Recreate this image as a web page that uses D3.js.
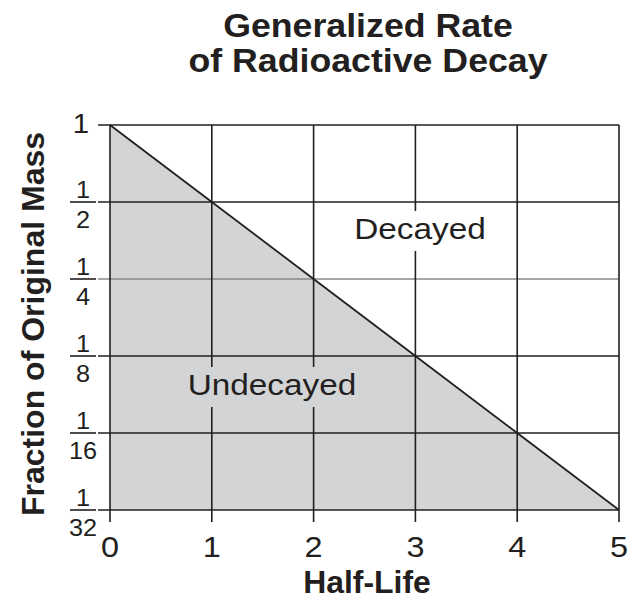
<!DOCTYPE html>
<html>
<head>
<meta charset="utf-8">
<script src="https://cdn.jsdelivr.net/npm/d3@7"></script>
<style>
  html, body { margin: 0; padding: 0; background: #fff; }
  svg { display: block; font-family: "Liberation Sans", Arial, sans-serif; }
</style>
</head>
<body>
<svg id="chart" width="644" height="601"></svg>
<script>
// Half-lives elapsed and remaining fraction of original mass
const halfLives = [0, 1, 2, 3, 4, 5];
const fractionDenoms = [1, 2, 4, 8, 16, 32];
const remaining = [1, 1/2, 1/4, 1/8, 1/16, 1/32];
const titleLines = ["Generalized Rate", "of Radioactive Decay"];

const svg = d3.select("#chart");
const plotLeft = 110, plotRight = 619, plotTop = 125, plotBottom = 510;

const x = d3.scaleLinear().domain([0, 5]).range([plotLeft, plotRight]);
const y = d3.scaleLog().base(2).domain([1/32, 1]).range([plotBottom, plotTop]);

const ink = "#231f20";
const shade = "#d3d4d6";
const data = halfLives.map((h, i) => ({ h, f: remaining[i] }));

// Text helper: places a label at (cx, cy) with a slight horizontal stretch
function label(parent, text, cx, cy, size, opts = {}) {
  return parent.append("text")
    .attr("transform", `translate(${cx},${cy}) scale(${opts.stretch || 1},1)${opts.rotate ? " rotate(" + opts.rotate + ")" : ""}`)
    .attr("text-anchor", opts.anchor || "middle")
    .attr("font-size", size)
    .attr("font-weight", opts.bold ? "bold" : "normal")
    .attr("fill", ink)
    .text(text);
}

// Undecayed region below the decay line
svg.append("path")
  .datum(data)
  .attr("fill", shade)
  .attr("d", d3.area().x(d => x(d.h)).y0(y(1/32)).y1(d => y(d.f)));

// Horizontal gridlines with short ticks left of the axis (1/4 line drawn lighter)
svg.append("g").selectAll("line")
  .data(fractionDenoms)
  .join("line")
  .attr("x1", plotLeft - 12).attr("x2", plotRight)
  .attr("y1", d => y(1 / d)).attr("y2", d => y(1 / d))
  .attr("stroke", d => d === 4 ? "#8a8a8a" : ink)
  .attr("stroke-width", 1.6);

// Vertical gridlines with ticks below the axis
svg.append("g").selectAll("line")
  .data(halfLives)
  .join("line")
  .attr("x1", d => x(d)).attr("x2", d => x(d))
  .attr("y1", plotTop).attr("y2", plotBottom + 12)
  .attr("stroke", ink)
  .attr("stroke-width", 1.6);

// Decay line
svg.append("path")
  .datum(data)
  .attr("fill", "none")
  .attr("stroke", ink)
  .attr("stroke-width", 1.8)
  .attr("d", d3.line().x(d => x(d.h)).y(d => y(d.f)));

// Region labels with backgrounds that hide the gridlines
function regionLabel(text, cx, baseline, bg) {
  const g = svg.append("g");
  const t = label(g, text, cx, baseline, 29, { stretch: 1.15 });
  const bb = t.node().getBBox();
  const w = bb.width * 1.15;
  g.insert("rect", "text")
    .attr("x", cx - w / 2 - 3).attr("y", baseline - 28)
    .attr("width", w + 6).attr("height", 40)
    .attr("fill", bg);
}
regionLabel("Decayed", 420, 239, "#fff");
regionLabel("Undecayed", 272, 395, shade);

// X tick labels
const xl = svg.append("g");
halfLives.forEach(h => label(xl, h, x(h), 557, 30, { stretch: 1.08 }));

// Y tick labels as stacked fractions
const yl = svg.append("g");
fractionDenoms.forEach(d => {
  const yy = y(1 / d);
  if (d === 1) {
    label(yl, "1", 81, yy + 8, 28, { stretch: 1.05 });
  } else {
    label(yl, "1", 83, yy - 4, 23, { stretch: 1.1 });
    label(yl, d, 83, yy + 26, 23, { stretch: 1.1 });
    yl.append("line")
      .attr("x1", 70).attr("x2", 96)
      .attr("y1", yy).attr("y2", yy)
      .attr("stroke", ink).attr("stroke-width", 1.6);
  }
});

// Title
const tg = svg.append("g");
titleLines.forEach((t, i) => label(tg, t, 368, 37 + i * 35, 34, { bold: true, stretch: 1.05 }));

// Axis titles
label(svg, "Half-Life", 367, 593, 31, { bold: true, stretch: 1.03 });
label(svg, "Fraction of Original Mass", 44, 324, 32, { bold: true, rotate: -90 });
</script>
</body>
</html>
